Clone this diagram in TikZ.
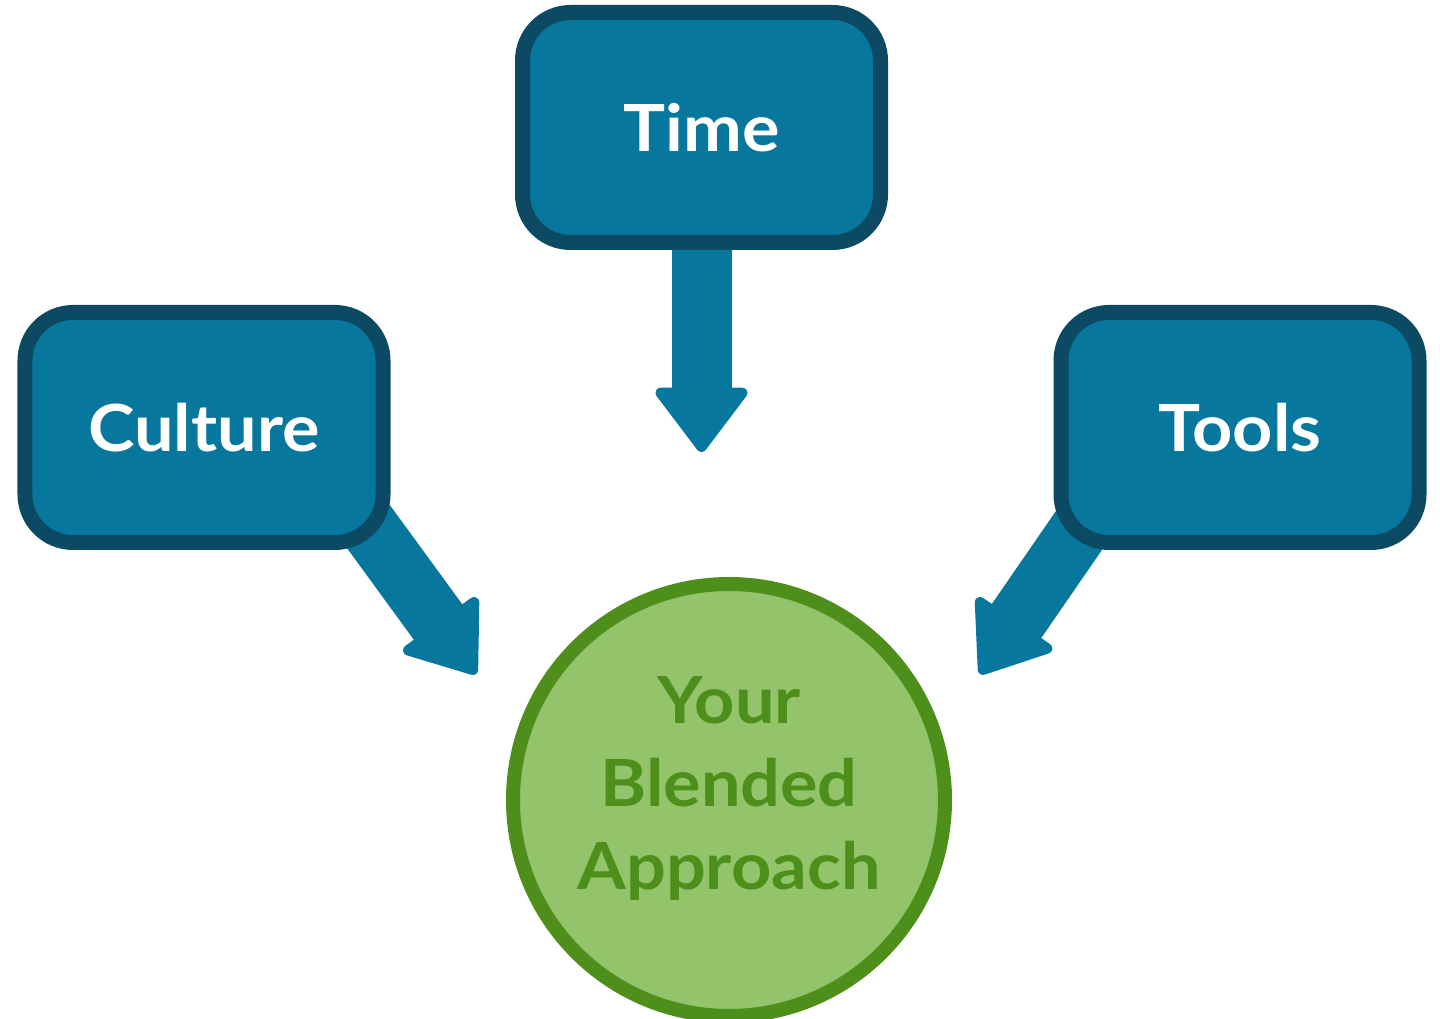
\documentclass[tikz,border=0pt]{standalone}
\usepackage{fontspec}
\setmainfont{Lato}[FakeStretch=1.08]
\usepackage{xcolor}
\usepackage[]{tikz}
\usetikzlibrary{positioning,calc,backgrounds}
\usetikzlibrary{arrows.meta,arrows}
\definecolor{boxfill}{HTML}{07779E}
\definecolor{boxline}{HTML}{0C4A64}
\definecolor{blendfill}{HTML}{93C36B}
\definecolor{blendline}{HTML}{4E8E1A}
\tikzset{box node/.style={rectangle,rounded corners=0.48cm,fill=boxfill,draw=boxline,line width=0.15cm,minimum width=3.58cm,minimum height=2.3cm,text=white,font=\bfseries\fontsize{18.5}{23.6}\selectfont}}
\tikzset{blend node/.style={circle,fill=blendfill,draw=blendline,line width=0.14cm,minimum size=4.32cm,inner sep=0pt,text=blendline,align=center,text depth=0.34cm,font=\bfseries\fontsize{18.5}{23.6}\selectfont}}
\tikzset{big arrow/.style={draw=boxfill,line width=0.6cm,-{Triangle[width=1.0cm,length=0.68cm,line width=3pt,round]}}}

\begin{document}
\begin{tikzpicture}[auto, on grid, ]
      \useasboundingbox (0,0) rectangle (14.4,10.19);
      \node[box node] (time) at (7.015,8.915) {Time};
      \node[box node] (culture) [below left = 3cm and 4.975cm of time] {Culture};
      \node[box node] (tools) [below right = 3cm and 5.385cm of time] {Tools};
      \node[blend node] (blend) [below right = 6.725cm and 0.275cm of time] {Your\\Blended\\Approach};
      \coordinate[below = 3.245cm of time] (tipT);
      \coordinate[below right = 2.465cm and 2.72cm of culture] (tipC);
      \coordinate[below left = 2.465cm and 2.6cm of tools] (tipR);
      \begin{scope}[on background layer]
      \draw[big arrow] (time.south) -- (tipT);
      \draw[big arrow,shorten <=-1cm] ($(culture.south east)+(-0.05,0)$) -- (tipC);
      \draw[big arrow,shorten <=-1cm] ($(tools.south west)+(0.12,0)$) -- (tipR);
      \end{scope}
    \end{tikzpicture}
\end{document}
